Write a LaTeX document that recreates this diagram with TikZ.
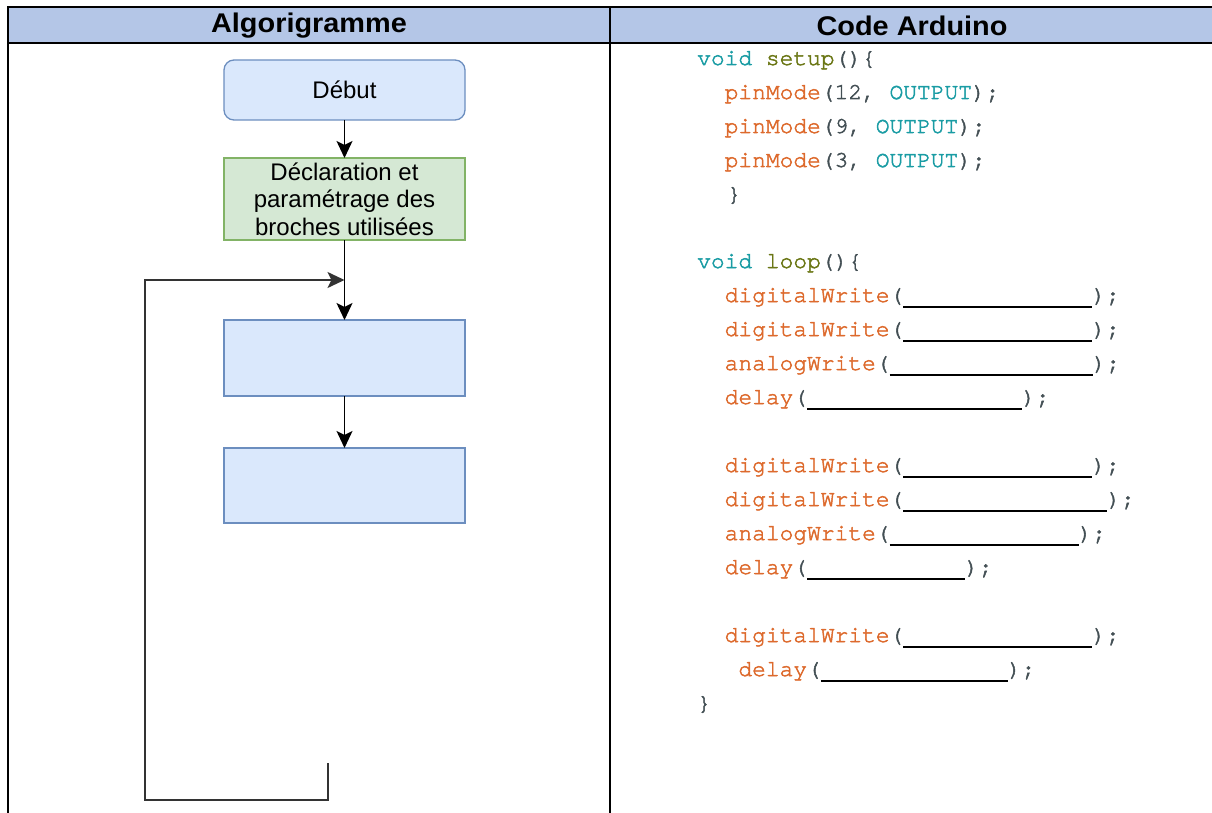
\documentclass[tikz,border=0pt]{standalone}
\usepackage{fontspec}
\setmainfont{Liberation Sans}
\newfontfamily\codefont[FakeBold=2.2]{TeX Gyre Cursor}
\newfontfamily\hdrfont[FakeStretch=1.07]{Liberation Sans}
\usetikzlibrary{arrows.meta}
\definecolor{hdrblue}{HTML}{B4C6E7}
\definecolor{boxfill}{HTML}{DAE8FC}
\definecolor{boxline}{HTML}{6C8EBF}
\definecolor{gfill}{HTML}{D5E8D4}
\definecolor{gline}{HTML}{82B366}
\definecolor{aorange}{HTML}{DD6A2D}
\definecolor{ateal}{HTML}{1A9CA4}
\definecolor{aolive}{HTML}{6B7716}
\definecolor{adark}{HTML}{434F54}
\definecolor{loopgray}{HTML}{333333}
\newcommand{\fn}[1]{\textcolor{aorange}{#1}}
\newcommand{\kw}[1]{\textcolor{ateal}{#1}}
\newcommand{\pu}[1]{\textcolor{adark}{#1}}
\newcommand{\blank}[1]{\textcolor{black}{\rule[-5.5pt]{#1pt}{1.4pt}}}
\tikzset{
  hdr/.style={font=\hdrfont\bfseries\fontsize{27}{27}\selectfont, inner sep=0},
  fbox/.style={draw=boxline, fill=boxfill, line width=1.3pt, minimum width=241pt, inner sep=0, outer sep=0,
    font=\fontsize{24}{27.5}\selectfont, align=center},
  gbox/.style={fbox, draw=gline, fill=gfill},
  tipstyle/.style={-{Stealth[length=17pt,width=16pt,inset=4pt]}},
  flow/.style={line width=1.6pt, tipstyle},
  loopline/.style={line width=2pt, draw=loopgray, tipstyle},
  code/.style={anchor=base west, inner sep=0, font=\codefont\fontsize{22.9}{22.9}\selectfont},
  frame/.style={line width=2pt, line cap=rect}
}
\begin{document}
\begin{tikzpicture}[x=1pt,y=-1pt]
\useasboundingbox (0,0) rectangle (1212,813);
% table
\fill[hdrblue] (7.5,7.5) rectangle (1212,43);
\draw[frame] (1212,7.5) -- (7.5,7.5) -- (7.5,813);
\draw[frame] (7.5,43) -- (1212,43);
\draw[frame] (610,7.5) -- (610,813);
\node[hdr] (h1) at (309,26) {Algorigramme};
\node[hdr] (h2) at (912,26) {Code Arduino};
% flowchart
\node[fbox, minimum height=60pt, rounded corners=10pt] (debut) at (344.5,90) {Début};
\node[gbox, minimum height=82pt] (decl) at (344.5,199) {Déclaration et\\paramétrage des\\broches utilisées};
\node[fbox, minimum height=76pt] (b1) at (344.5,358) {};
\node[fbox, minimum height=75pt] (b2) at (344.5,485.5) {};
\draw[flow] (debut) -- (decl);
\draw[flow] (decl) -- (b1);
\draw[flow] (b1) -- (b2);
\coordinate (ls) at (328,763);
\coordinate (lc) at (145,800);
\coordinate (j) at (344.5,280);
\draw[loopline] (ls) |- (lc) |- (j);
% code
\node[code] (c1) at (697,65) {\kw{void} \textcolor{aolive}{setup}\pu{()\{}};
\node[code] (c2) at (724.5,99) {\fn{pinMode}\pu{(12, }\kw{OUTPUT}\pu{);}};
\node[code] (c3) at (724.5,133) {\fn{pinMode}\pu{(9, }\kw{OUTPUT}\pu{);}};
\node[code] (c4) at (724.5,167) {\fn{pinMode}\pu{(3, }\kw{OUTPUT}\pu{);}};
\node[code] (c5) at (727,201) {\pu{\}}};
\node[code] (c6) at (697,268) {\kw{void} \textcolor{aolive}{loop}\pu{()\{}};
\node[code] (c7) at (724.5,302) {\fn{digitalWrite}\pu{(}\blank{189}\pu{);}};
\node[code] (c8) at (724.5,336) {\fn{digitalWrite}\pu{(}\blank{189}\pu{);}};
\node[code] (c9) at (724.5,370) {\fn{analogWrite}\pu{(}\blank{203}\pu{);}};
\node[code] (c10) at (724.5,404) {\fn{delay}\pu{(}\blank{215}\pu{);}};
\node[code] (c11) at (724.5,472) {\fn{digitalWrite}\pu{(}\blank{189}\pu{);}};
\node[code] (c12) at (724.5,506) {\fn{digitalWrite}\pu{(}\blank{204}\pu{);}};
\node[code] (c13) at (724.5,540) {\fn{analogWrite}\pu{(}\blank{189}\pu{);}};
\node[code] (c14) at (724.5,574) {\fn{delay}\pu{(}\blank{158}\pu{);}};
\node[code] (c15) at (724.5,642) {\fn{digitalWrite}\pu{(}\blank{189}\pu{);}};
\node[code] (c16) at (738.2,676) {\fn{delay}\pu{(}\blank{187}\pu{);}};
\node[code] (c17) at (697,710) {\pu{\}}};
\end{tikzpicture}
\end{document}
